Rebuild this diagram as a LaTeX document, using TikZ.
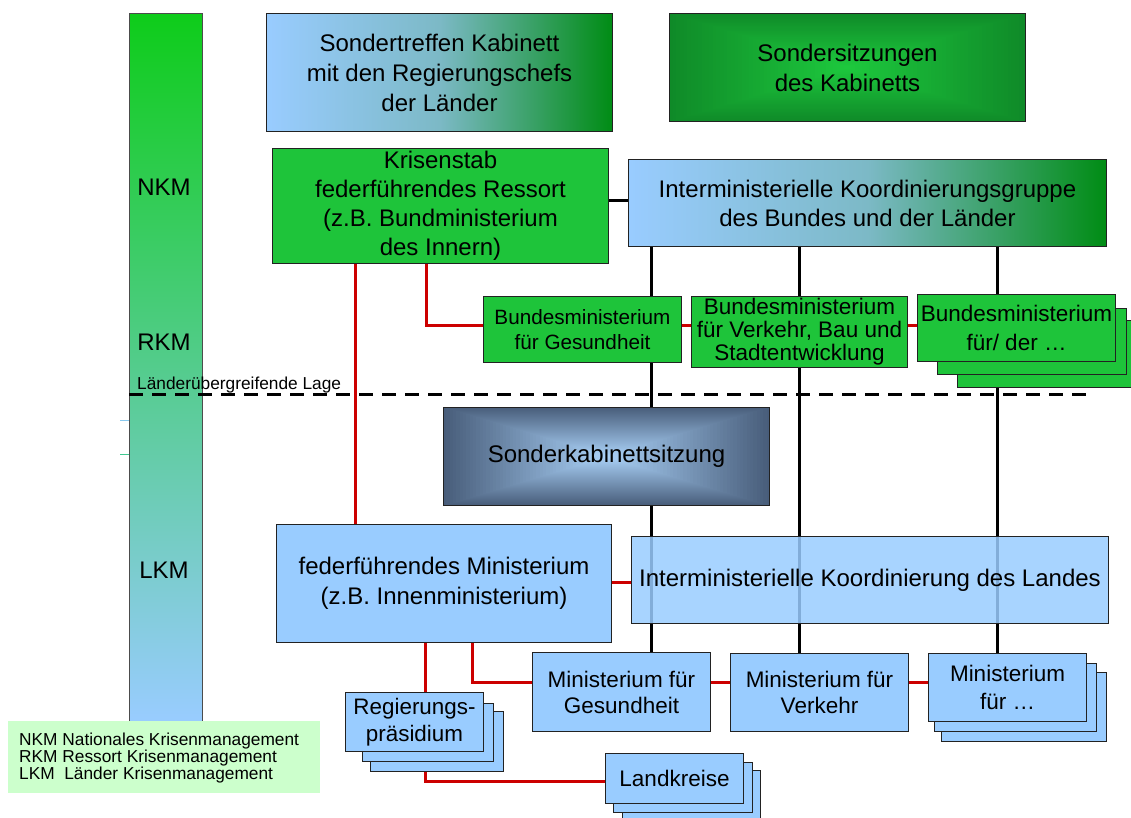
\documentclass[tikz,border=0pt]{standalone}
\usepackage{fontspec}
\setmainfont{Liberation Sans}
\usetikzlibrary{calc}
\definecolor{lblue}{HTML}{99CCFF}
\definecolor{kgreen}{HTML}{1EC43A}
\definecolor{dgreen}{HTML}{008C14}
\definecolor{midgb}{HTML}{7CB9C6}
\definecolor{redc}{HTML}{CC0000}
\definecolor{slate}{HTML}{485D7A}
\definecolor{slatec}{HTML}{A8CFF5}
\definecolor{sgreen}{HTML}{0F8A28}
\definecolor{sgreenc}{HTML}{1DC83D}
\definecolor{legendg}{HTML}{CCFFCC}
\definecolor{bartop}{HTML}{0ECC1A}
\definecolor{barmid}{HTML}{6CCDB8}
\definecolor{edgec}{HTML}{222222}
\definecolor{tickb}{HTML}{88C8EE}
\definecolor{tickg}{HTML}{40C890}
\pgfdeclarelayer{bg}
\pgfdeclarelayer{mid}
\pgfsetlayers{bg,mid,main}
\begin{document}
\begin{tikzpicture}[x=1pt,y=-1pt,
  box/.style={draw=edgec, line width=1pt, inner sep=2pt, align=center, anchor=north west},
  gbox/.style={box, fill=kgreen},
  bbox/.style={box, fill=lblue},
  redline/.style={draw=redc, line width=3pt},
  blackline/.style={draw=black, line width=3pt},
  fmain/.style={font=\fontsize{24}{30}\selectfont},
  fks/.style={font=\fontsize{24}{29}\selectfont},
  fbmg/.style={font=\fontsize{20.7}{25}\selectfont},
  fbmv/.style={font=\fontsize{22.5}{23}\selectfont},
  fbmf/.style={font=\fontsize{22.5}{29}\selectfont},
  flow/.style={font=\fontsize{22.5}{26}\selectfont},
  fsmall/.style={font=\fontsize{17.3}{17}\selectfont},
]
\useasboundingbox (0,0) rectangle (1131,817);

% top row
\node[box, fmain, minimum width=346pt, minimum height=118pt,
      left color=lblue, right color=dgreen, middle color=midgb] (st) at (266,13)
      {Sondertreffen Kabinett\\mit den Regierungschefs\\der Länder};
\node[box, fmain, minimum width=356pt, minimum height=108pt] (ss) at (669,13)
      {Sondersitzungen\\des Kabinetts};

% Bund
\node[gbox, fks, minimum width=336pt, minimum height=115pt] (ks) at (272,148)
      {Krisenstab\\federführendes Ressort\\(z.B. Bundministerium\\des Innern)};
\node[box, fks, minimum width=478pt, minimum height=87pt,
      left color=lblue, right color=dgreen, middle color=midgb] (ikg) at (628,159)
      {Interministerielle Koordinierungsgruppe\\des Bundes und der Länder};
\node[gbox, fbmg, minimum width=198pt, minimum height=66pt] (bmg) at (483,296)
      {Bundesministerium\\für Gesundheit};
\node[gbox, fbmv, minimum width=216pt, minimum height=66pt] (bmv) at (691,296)
      {Bundesministerium\\für Verkehr, Bau und\\Stadtentwicklung};
\node[gbox, minimum width=190pt, minimum height=67pt] (bmf3) at (957,320) {};
\node[gbox, minimum width=189pt, minimum height=66pt] (bmf2) at (937,308) {};
\node[gbox, fbmf, minimum width=198pt, minimum height=67pt] (bmf1) at (917,294)
      {Bundesministerium\\für/ der …};

% Sonderkabinettsitzung
\node[box, fmain, minimum width=326pt, minimum height=98pt] (sks) at (443,407)
      {Sonderkabinettsitzung};

% Land
\node[bbox, fmain, minimum width=335pt, minimum height=118pt] (fm) at (276,524)
      {federführendes Ministerium\\(z.B. Innenministerium)};
\node[bbox, fmain, fill opacity=0.85, text opacity=1, minimum width=477pt, minimum height=87pt] (ikl) at (631,536)
      {Interministerielle Koordinierung des Landes};
\node[bbox, flow, minimum width=178pt, minimum height=79pt] (mfg) at (532,652)
      {Ministerium für\\Gesundheit};
\node[bbox, flow, minimum width=178pt, minimum height=78pt] (mfv) at (730,653)
      {Ministerium für\\Verkehr};
\node[bbox, minimum width=165pt, minimum height=69pt] (mf3) at (941,672) {};
\node[bbox, minimum width=162pt, minimum height=68pt] (mf2) at (934,663) {};
\node[bbox, font=\fontsize{22.5}{28}\selectfont, minimum width=158pt, minimum height=68pt] (mf1) at (928,653)
      {Ministerium\\für …};
\node[bbox, minimum width=133pt, minimum height=60pt] (rp3) at (370,711) {};
\node[bbox, minimum width=131pt, minimum height=58pt] (rp2) at (362,703) {};
\node[bbox, font=\fontsize{22.4}{27}\selectfont, minimum width=138pt, minimum height=59pt] (rp1) at (345,692)
      {Regierungs-\\präsidium};
\node[bbox, minimum width=138pt, minimum height=55pt] (lk3) at (622,770) {};
\node[bbox, minimum width=139pt, minimum height=50pt] (lk2) at (613,762) {};
\node[bbox, flow, minimum width=138pt, minimum height=50pt] (lk1) at (605,753)
      {Landkreise};

% legend
\node[anchor=north west, fill=legendg, minimum width=312pt, minimum height=72pt, inner sep=0pt] (legend) at (8,721) {};
\node[anchor=north west, fsmall, align=left, inner sep=0pt] (legendtext) at (19,732.5)
      {NKM Nationales Krisenmanagement\\RKM Ressort Krisenmanagement\\LKM\ \ Länder Krisenmanagement};

% rectangular gradients from the centre (concentric rectangles)
\begin{pgfonlayer}{mid}
  \foreach \i in {0,...,48}{
    \pgfmathsetmacro{\f}{1-\i/49}
    \pgfmathsetmacro{\p}{100*\i/48}
    \fill[slatec!\p!slate] ($(sks.center)!\f!(sks.north west)$) rectangle ($(sks.center)!\f!(sks.south east)$);
    \fill[sgreenc!\p!sgreen] ($(ss.center)!\f!(ss.north west)$) rectangle ($(ss.center)!\f!(ss.south east)$);
  }
\end{pgfonlayer}

\begin{pgfonlayer}{bg}
  % level bar
  \node[box, minimum width=73pt, minimum height=708pt, draw=black!70,
        top color=bartop, middle color=barmid, bottom color=lblue] (bar) at (129,13) {};
  \node[fmain] (nkm) at (164,187) {NKM};
  \node[fmain] (rkm) at (164,342) {RKM};
  \node[fmain] (lkm) at (164,570) {LKM};
  \draw[tickb, line width=1pt] ($(bar.north west)+(-9,407)$) -- ($(bar.north west)+(0,407)$);
  \draw[tickg, line width=1pt] ($(bar.north west)+(-9,441)$) -- ($(bar.north west)+(0,441)$);
  \node[fsmall, anchor=base west, inner sep=0pt] (lage) at (137,389) {Länderübergreifende Lage};
  \coordinate (dashend) at (1086,394);
  \draw[line width=3pt, dash pattern=on 14pt off 9pt] (bar.west |- dashend) -- (dashend);

  % connector helpers
  \coordinate (y200) at (0,200);
  \coordinate (y325) at (0,325);
  \coordinate (y582) at (0,582);
  \coordinate (y682) at (0,682);
  \coordinate (y781) at (0,781);
  \coordinate (v1) at (651,0);
  \coordinate (v2) at (799,0);
  \coordinate (v3) at (997,0);
  \coordinate (r1) at (355,0);
  \coordinate (r2) at (426,0);
  \coordinate (r3) at (425,0);
  \coordinate (r4) at (472,0);

  % black connectors
  \draw[blackline] (ks.east |- y200) -- (ikg.west |- y200);
  \draw[blackline] (ikg.south -| v1) -- (mfg.north -| v1);
  \draw[blackline] (ikg.south -| v2) -- (mfv.north -| v2);
  \draw[blackline] (ikg.south -| v3) -- (mf1.north -| v3);

  % red connectors
  \draw[redline] (ks.south -| r1) -- (fm.north -| r1);
  \draw[redline] (ks.south -| r2) |- (bmg.west |- y325);
  \draw[redline] (bmg.east |- y325) -- (bmv.west |- y325);
  \draw[redline] (bmv.east |- y325) -- (bmf1.west |- y325);
  \draw[redline] (fm.east |- y582) -- (ikl.west |- y582);
  \draw[redline] (fm.south -| r3) -- (rp1.north -| r3);
  \draw[redline] (fm.south -| r4) |- (mfg.west |- y682);
  \draw[redline] (mfg.east |- y682) -- (mfv.west |- y682);
  \draw[redline] (mfv.east |- y682) -- (mf1.west |- y682);
  \draw[redline] (rp3.south -| r3) |- (lk1.west |- y781);
\end{pgfonlayer}
\end{tikzpicture}
\end{document}
